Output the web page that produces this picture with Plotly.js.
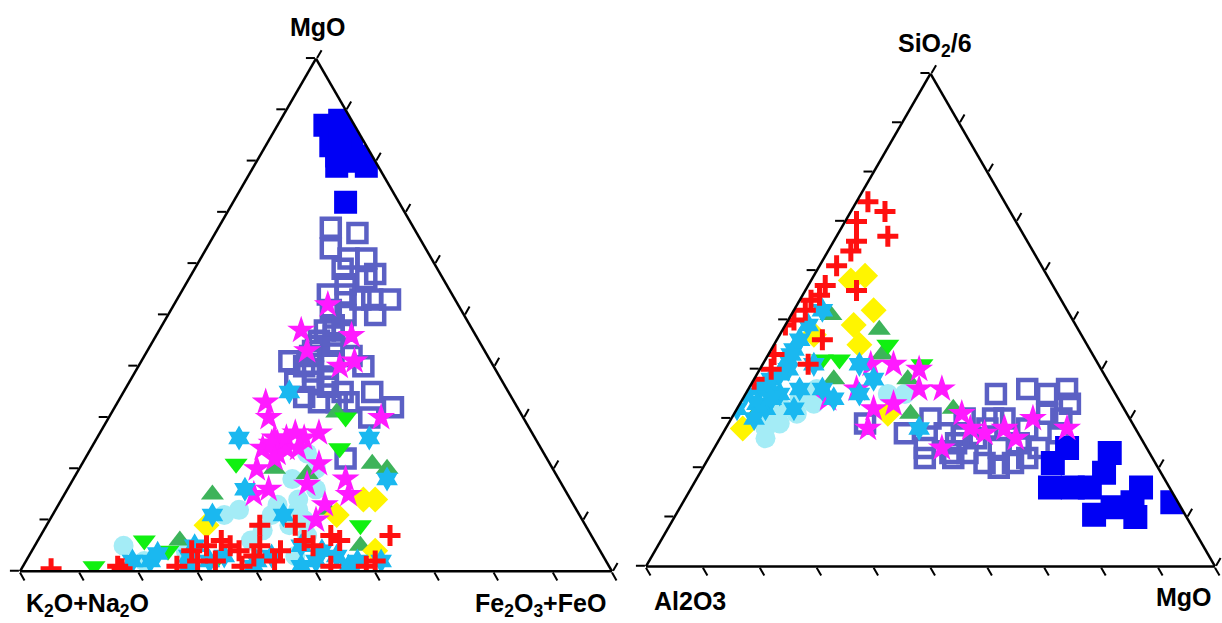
<!DOCTYPE html>
<html>
<head>
<meta charset="utf-8">
<script src="https://cdn.plot.ly/plotly-3.0.1.min.js"></script>
<style>html,body{margin:0;padding:0;background:#fff;}#chart{width:1222px;height:623px;}</style>
</head>
<body>
<div id="chart"></div>
<script>
// ---------- LEFT diagram: a = MgO, b = K2O+Na2O, c = Fe2O3+FeO ----------
const L_fillSq_a = [87,88,86,83,84,81,81,79,79,72,86,84,80];
const L_fillSq_b = [5,2,1,6,2,6,2,7,2,9,4,4,4];
const L_fillSq_c = [8,10,13,11,14,13,17,14,19,19,10,12,16];

const L_openSq_a = [67,66,63,61,61,59,58,54,54,53,53,53,51,50,50,47,47,44,41,40,41,42,40,37,37,36,35,34,33,33,35,32,30,33,22,45,43,44,42,39,38,46,48,56,57];
const L_openSq_b = [14,10,16,14,11,16,11,21,18,16,14,11,22,20,15,25,22,28,34,32,27,23,22,35,32,30,28,35,33,30,23,21,26,28,34,27,29,25,30,31,29,24,23,17,13];
const L_openSq_c = [19,24,21,25,28,25,31,25,28,31,33,36,27,30,35,28,31,28,25,28,32,35,38,28,31,34,37,31,34,37,42,47,44,39,44,28,28,31,28,30,33,30,29,27,30];

const L_star_a = [52,47,46,43,41,40,33,30,25,24,24,26,27,26,20,21,16,17,18,15,13,10,30,15,25,23,26,24,27,22];
const L_star_b = [22,29,21,30,23,26,42,43,44,47,43,44,36,39,50,39,50,43,36,53,42,45,24,37,45,45,42,41,40,46];
const L_star_c = [26,24,33,27,36,34,25,27,31,29,33,30,37,35,30,40,34,40,46,32,45,45,46,48,30,32,32,35,33,32];

const L_triDown_a = [21,24,9,6,1,4,30,2];
const L_triDown_b = [53,34,38,76,87,73,30,66];
const L_triDown_c = [26,42,53,18,12,23,40,32];

const L_triUp_a = [20,15,21,20,31,19,6,12,5];
const L_triUp_b = [47,60,30,28,31,42,70,42,40];
const L_triUp_c = [33,25,49,52,38,39,24,46,55];

const L_diam_a = [14,14,9,11,4];
const L_diam_b = [35,33,64,41,38];
const L_diam_c = [51,53,27,48,58];

const L_cross_a = [0.5,1,0.5,1,4,5,2,2,5,4,1,3,9,5,4,9,6,5,7,6,1,1,2,7,2,6];
const L_cross_b = [94.5,83,82.5,73,69,66,69,66,62,61,62,59,55,57,54,49,49,48,44,43,47,41,39,34,56,63];
const L_cross_c = [5,16,17,26,27,29,29,32,33,35,37,38,36,38,42,42,45,47,49,51,52,58,59,59,42,31];

const L_hex_a = [26,35,26,18,16,2,3.5,1,2,2,2,3,2,5,2,11,11,3,1,3,1,4,1,2,3,5];
const L_hex_b = [50,37,28,29,54,77,75,71,67,59,49,45,38,50,80,62,50,64,60,56,52,47,44,42,70,68];
const L_hex_c = [24,28,46,53,30,21,21.5,28,31,39,49,52,60,45,18,27,39,33,39,41,47,49,55,56,27,27];

const L_circ_a = [23,20,16,13,9,11,12,5,12,11,3,18,14,8,7,6,10,2,4];
const L_circ_b = [40,40,42,50,50,60,57,80,47,52,52,45,46,55,48,58,47,78,70];
const L_circ_c = [37,40,42,37,41,29,31,15,41,37,45,37,40,37,45,36,43,20,26];

// ---------- RIGHT diagram: a = SiO2/6, b = Al2O3, c = MgO ----------
const R_fillSq_a = [24,23,21,16,16,16,19,16,13,10.5,12,10,13];
const R_fillSq_b = [14,7,18,21,17,14,10,5,8,16,12,9,1];
const R_fillSq_c = [62,70,61,63,67,70,71,79,79,73.5,76,81,86];

const R_openSq_a = [27,24,22,23,23,21,20,21,22,35,36,35,36,33,31,28,30,30,27,24,27,24,30,27,30,30,29,26,25,22,28,25];
const R_openSq_b = [41,39,40,35,32,30,28,25,22,21,15,12,8,9,14,19,29,35,31,26,14,19,22,34,24,12,47,29,33,35,26,22];
const R_openSq_c = [32,37,38,42,45,49,52,54,56,44,49,53,56,58,55,53,41,35,42,50,59,57,48,39,46,58,24,45,42,43,46,53];

const R_star_a = [41,41,40,36,36,36,32,28,34,33,31,24,27,28,26,30,28,28];
const R_star_b = [40,36,32,45,30,34,44,47,51,40,29,36,27,23,22,17,12,29];
const R_star_c = [19,23,28,19,34,30,24,25,15,27,40,40,46,49,52,53,60,43];

const R_triDown_a = [42,41,45,42];
const R_triDown_b = [45,31,35,48];
const R_triDown_c = [13,28,20,10];

const R_triUp_a = [51,48,43,38,38,32,31,32];
const R_triUp_b = [42,35,37,48,35,64,38,30];
const R_triUp_c = [7,17,20,14,27,4,31,38];

const R_diam_a = [58,59,52,49,45,47,28,31];
const R_diam_b = [35,32,34,39,40,47,69,42];
const R_diam_c = [7,9,14,12,15,6,3,27];

const R_cross_a = [74,72,70,66,67,64,61,56,57,55,54,52,50,49,46,43,40,38,41];
const R_cross_b = [24,22,28,30,24,32,36,35,40,42,44,46,49,51,46,56,58,62,51];
const R_cross_c = [2,6,2,4,9,4,3,9,3,3,2,2,1,0,8,1,2,0,8];

const R_hex_a = [32,35,36,38,40,44,46,49,52,35,36,36,34,35,38,41,28,32,32,41,33,37,42,39,43,34,30];
const R_hex_b = [68,65,62,59,55,52,50,47,43,59,55,51,50,45,41,42,38,58,63,50,64,60,54,57,53,61,66];
const R_hex_c = [0,0,2,3,5,4,4,4,5,6,9,13,16,20,21,17,34,10,5,9,3,3,4,4,4,5,4];

const R_circ_a = [30,28,32,34,33,35,35,26,29,31,36];
const R_circ_b = [63,65,60,56,54,40,37,66,62,58,52];
const R_circ_c = [7,7,8,10,13,25,28,8,9,11,12];

// ---------- colours ----------
const C_fillSq = '#0000F5';
const C_openSq = '#5B60C4';
const C_star = '#FF1AFF';
const C_triDown = '#10F010';
const C_triUp = '#3DB35A';
const C_diam = '#FFF500';
const C_cross = '#FF1010';
const C_hex = '#1AB8F0';
const C_circ = '#A4ECF6';

function tr(sub, a, b, c, sym, color, size, lw) {
  return {
    type: 'scatterternary', mode: 'markers', subplot: sub,
    a: a, b: b, c: c,
    marker: {symbol: sym, color: color, size: size, line: {color: color, width: lw}},
    hoverinfo: 'skip', showlegend: false
  };
}

function series(sub, P, big) {
  return [
    tr(sub, P.circ[0], P.circ[1], P.circ[2], 'circle', C_circ, 20, 0),
    tr(sub, P.openSq[0], P.openSq[1], P.openSq[2], 'square-open', C_openSq, 18, 4.5),
    tr(sub, P.fillSq[0], P.fillSq[1], P.fillSq[2], 'square', C_fillSq, big, 0),
    tr(sub, P.triUp[0], P.triUp[1], P.triUp[2], 'triangle-up', C_triUp, 20, 0),
    tr(sub, P.triDown[0], P.triDown[1], P.triDown[2], 'triangle-down', C_triDown, 20, 0),
    tr(sub, P.diam[0], P.diam[1], P.diam[2], 'diamond', C_diam, 20, 0),
    tr(sub, P.star[0], P.star[1], P.star[2], 'star', C_star, 21, 0),
    tr(sub, P.hex[0], P.hex[1], P.hex[2], 'hexagram', C_hex, 19, 0),
    tr(sub, P.cross[0], P.cross[1], P.cross[2], 'cross-thin', C_cross, 15, 5)
  ];
}

const data = [].concat(
  series('ternary', {
    circ: [L_circ_a, L_circ_b, L_circ_c], openSq: [L_openSq_a, L_openSq_b, L_openSq_c],
    fillSq: [L_fillSq_a, L_fillSq_b, L_fillSq_c], triUp: [L_triUp_a, L_triUp_b, L_triUp_c],
    triDown: [L_triDown_a, L_triDown_b, L_triDown_c], diam: [L_diam_a, L_diam_b, L_diam_c],
    star: [L_star_a, L_star_b, L_star_c], hex: [L_hex_a, L_hex_b, L_hex_c],
    cross: [L_cross_a, L_cross_b, L_cross_c]
  }, 23),
  series('ternary2', {
    circ: [R_circ_a, R_circ_b, R_circ_c], openSq: [R_openSq_a, R_openSq_b, R_openSq_c],
    fillSq: [R_fillSq_a, R_fillSq_b, R_fillSq_c], triUp: [R_triUp_a, R_triUp_b, R_triUp_c],
    triDown: [R_triDown_a, R_triDown_b, R_triDown_c], diam: [R_diam_a, R_diam_b, R_diam_c],
    star: [R_star_a, R_star_b, R_star_c], hex: [R_hex_a, R_hex_b, R_hex_c],
    cross: [R_cross_a, R_cross_b, R_cross_c]
  }, 24)
);

function axis() {
  return {
    title: {text: ''}, showgrid: false, showticklabels: false,
    ticks: 'outside', ticklen: 9, tickwidth: 2, tickcolor: '#000',
    linecolor: '#000', linewidth: 2.5, dtick: 10, tick0: 0, min: 0
  };
}

const W = 1222, H = 623;
function ann(text, px, py) {
  return {text: '<b>' + text + '</b>', x: px / W, y: 1 - py / H, xref: 'paper', yref: 'paper',
          xanchor: 'center', yanchor: 'middle', showarrow: false,
          font: {family: 'Liberation Sans, Arial, sans-serif', size: 25, color: '#000'}};
}

const layout = {
  width: W, height: H,
  margin: {l: 0, r: 0, t: 0, b: 0},
  paper_bgcolor: '#fff', plot_bgcolor: '#fff',
  showlegend: false,
  ternary: {
    domain: {x: [20 / W, 612 / W], y: [1 - 572 / H, 1 - 58 / H]},
    sum: 100, bgcolor: '#fff',
    aaxis: axis(), baxis: axis(), caxis: axis()
  },
  ternary2: {
    domain: {x: [646 / W, 1215 / W], y: [1 - 568 / H, 1 - 72 / H]},
    sum: 100, bgcolor: '#fff',
    aaxis: axis(), baxis: axis(), caxis: axis()
  },
  annotations: [
    ann('MgO', 318, 27),
    ann('K<sub>2</sub>O+Na<sub>2</sub>O', 87, 605),
    ann('Fe<sub>2</sub>O<sub>3</sub>+FeO', 540, 605),
    ann('SiO<sub>2</sub>/6', 935, 45),
    ann('Al2O3', 690, 601),
    ann('MgO', 1184, 597)
  ]
};

Plotly.newPlot('chart', data, layout, {displayModeBar: false, staticPlot: true});
</script>
</body>
</html>
